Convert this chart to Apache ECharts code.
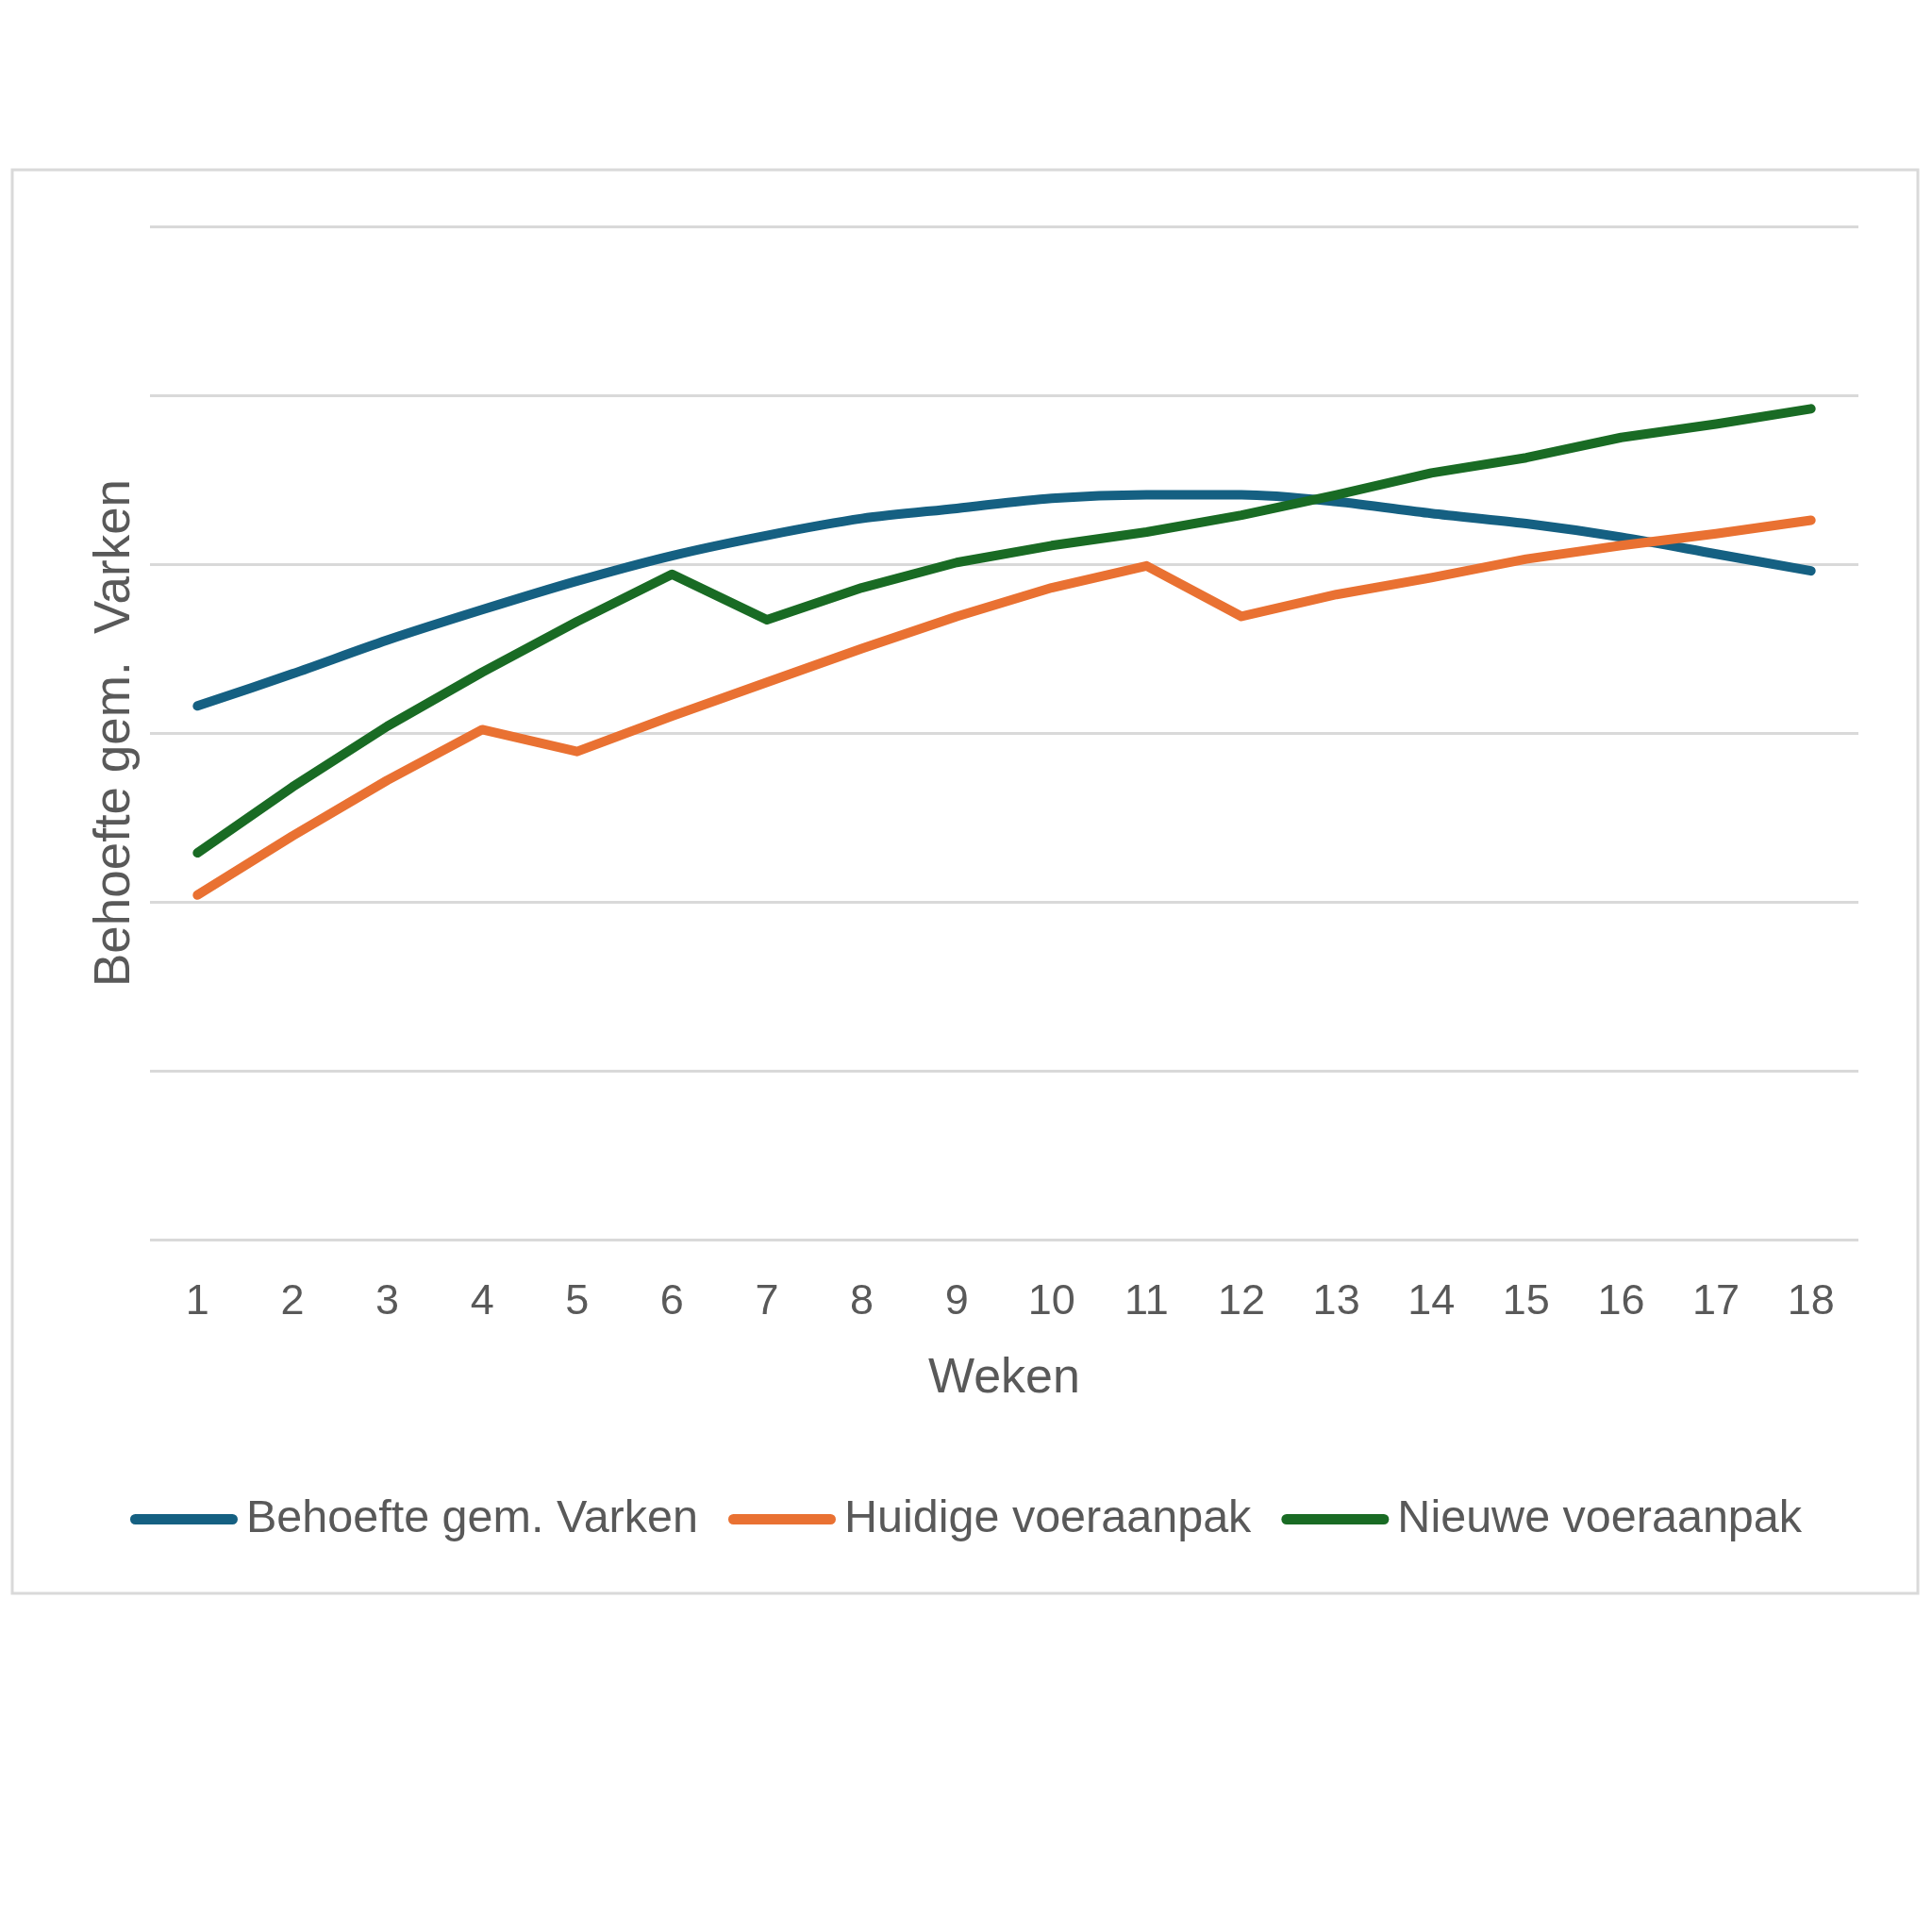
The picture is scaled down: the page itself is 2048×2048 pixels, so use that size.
<!DOCTYPE html>
<html>
<head>
<meta charset="utf-8">
<script src="https://cdn.jsdelivr.net/npm/echarts@6/dist/echarts.min.js"></script>
<style>
  html, body { margin: 0; padding: 0; background: #fff; }
  #ec { width: 2048px; height: 2048px; }
</style>
</head>
<body>
<div id="ec"></div>
<script>
  // weken
  var weeks = ['1','2','3','4','5','6','7','8','9','10','11','12','13','14','15','16','17','18']
  var behoefte = [3.16, 3.35, 3.55, 3.73, 3.90, 4.05, 4.17, 4.27, 4.33, 4.39, 4.41, 4.41, 4.37, 4.30, 4.24, 4.16, 4.06, 3.96]
  var huidige = [2.04, 2.39, 2.72, 3.02, 2.89, 3.10, 3.30, 3.50, 3.69, 3.86, 3.99, 3.69, 3.82, 3.92, 4.03, 4.11, 4.18, 4.26]
  var nieuwe = [2.29, 2.68, 3.04, 3.36, 3.66, 3.94, 3.67, 3.86, 4.01, 4.11, 4.19, 4.29, 4.41, 4.54, 4.63, 4.75, 4.83, 4.92]

  var font = 'Liberation Sans'
  var textColor = '#595959'
  var capsule = 'path://M5.5,0 L108.5,0 A5.5,5.5 0 0 1 108.5,11 L5.5,11 A5.5,5.5 0 0 1 5.5,0 Z'

  var ec = echarts.init(document.getElementById('ec'))
  ec.setOption({
    backgroundColor: '#fff',
    animation: false,
    graphic: [{
      type: 'rect',
      shape: { x: 13, y: 180, width: 2020, height: 1509 },
      style: { fill: 'none', stroke: '#D9D9D9', lineWidth: 3 },
      z: -1
    }],
    grid: {
      top: 240,
      bottom: 734,
      left: 159,
      right: 78
    },
    legend: {
      left: 'center',
      top: 1581,
      itemWidth: 114,
      itemHeight: 11,
      itemGap: 32,
      icon: capsule,
      textStyle: {
        color: textColor,
        fontFamily: font,
        fontSize: 48.5,
        padding: [0, 0, 0, 4]
      },
      data: ['Behoefte gem. Varken', 'Huidige voeraanpak', 'Nieuwe voeraanpak']
    },
    xAxis: {
      type: 'category',
      data: weeks,
      boundaryGap: true,
      name: 'Weken',
      nameLocation: 'middle',
      nameGap: 122,
      nameTextStyle: {
        color: textColor,
        fontFamily: font,
        fontSize: 52
      },
      axisLine: { show: false },
      axisTick: { show: false },
      axisLabel: {
        interval: 0,
        margin: 44,
        color: textColor,
        fontFamily: font,
        fontSize: 45
      }
    },
    yAxis: {
      type: 'value',
      min: 0,
      max: 6,
      interval: 1,
      name: 'Behoefte gem.  Varken',
      nameLocation: 'middle',
      nameGap: 10,
      nameTextStyle: {
        color: textColor,
        fontFamily: font,
        fontSize: 53
      },
      axisLine: { show: false },
      axisTick: { show: false },
      axisLabel: { show: false },
      splitLine: {
        lineStyle: { color: '#D9D9D9', width: 3 }
      }
    },
    series: [
      {
        name: 'Behoefte gem. Varken',
        type: 'line',
        data: behoefte,
        symbol: 'none',
        smooth: 0.3,
        lineStyle: { color: '#156082', width: 10, cap: 'round', join: 'round' },
        itemStyle: { color: '#156082' }
      },
      {
        name: 'Huidige voeraanpak',
        type: 'line',
        data: huidige,
        symbol: 'none',
        lineStyle: { color: '#E97132', width: 10, cap: 'round', join: 'round' },
        itemStyle: { color: '#E97132' }
      },
      {
        name: 'Nieuwe voeraanpak',
        type: 'line',
        data: nieuwe,
        symbol: 'none',
        lineStyle: { color: '#196B24', width: 10, cap: 'round', join: 'round' },
        itemStyle: { color: '#196B24' }
      }
    ]
  })
</script>
</body>
</html>
